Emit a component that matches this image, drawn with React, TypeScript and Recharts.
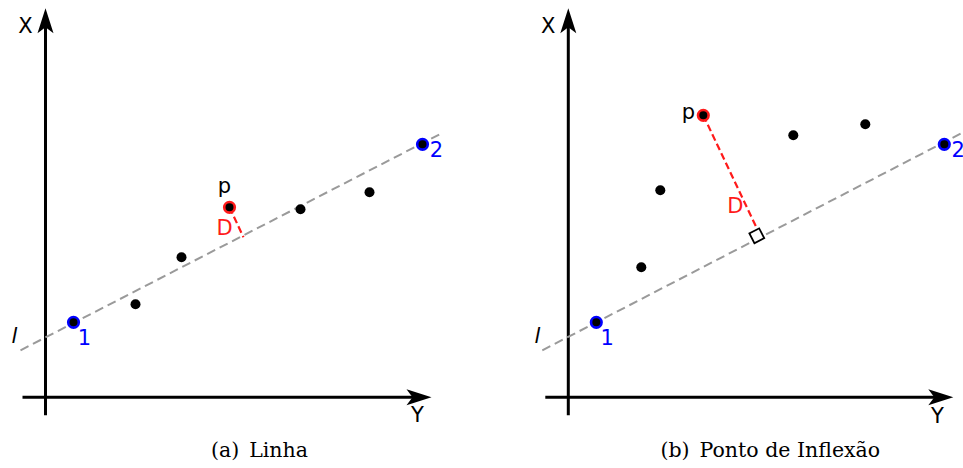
import React from 'react';
import { ScatterChart, Scatter, XAxis, YAxis, ReferenceLine, ReferenceDot } from 'recharts';

const H = 468;

// panel (a) Linha — units: 10px each, origin at the axes crossing
const dotsA = [{ x: 9.0, y: 9.3 }, { x: 13.6, y: 14.0 }, { x: 25.5, y: 18.8 }, { x: 32.4, y: 20.5 }];
const endsA = [{ x: 2.8, y: 7.5 }, { x: 37.7, y: 25.3 }];
const pointA = [{ x: 18.4, y: 19.0 }];
const lineA = [{ x: -2.5, y: 4.7 }, { x: 39.8, y: 26.5 }];
const distA = [{ x: 18.4, y: 19.0 }, { x: 19.8, y: 16.0 }];
const axisA = { yTip: 38.9, yStart: -1.8, xTip: 38.6, xStart: -2.3 };
const labelsA = [
  { x: -2.0, y: 36.4, text: 'X', kind: 'axis' },
  { x: 37.2, y: -2.5, text: 'Y', kind: 'axis' },
  { x: -3.1, y: 5.4, text: 'l', kind: 'line' },
  { x: 3.9, y: 5.2, text: '1', kind: 'end' },
  { x: 39.1, y: 24.0, text: '2', kind: 'end' },
  { x: 17.9, y: 20.4, text: 'p', kind: 'axis' },
  { x: 17.9, y: 16.2, text: 'D', kind: 'dist' },
];
const captionA = { x: 21.4, y: -6.0, tag: '(a)', text: 'Linha' };

// panel (b) Ponto de Inflexão
const dotsB = [{ x: 7.3, y: 13.0 }, { x: 9.2, y: 20.7 }, { x: 22.5, y: 26.2 }, { x: 29.7, y: 27.3 }];
const endsB = [{ x: 2.8, y: 7.5 }, { x: 37.6, y: 25.3 }];
const pointB = [{ x: 13.5, y: 28.2 }];
const lineB = [{ x: -2.6, y: 4.7 }, { x: 39.5, y: 26.5 }];
const distB = [{ x: 13.5, y: 28.2 }, { x: 18.9, y: 16.8 }];
const cornerB = [{ x: 18.85, y: 16.15 }];
const axisB = { yTip: 38.9, yStart: -1.8, xTip: 38.5, xStart: -2.3 };
const labelsB = [
  { x: -2.0, y: 36.4, text: 'X', kind: 'axis' },
  { x: 36.9, y: -2.6, text: 'Y', kind: 'axis' },
  { x: -3.1, y: 5.4, text: 'l', kind: 'line' },
  { x: 3.9, y: 5.2, text: '1', kind: 'end' },
  { x: 39.0, y: 24.0, text: '2', kind: 'end' },
  { x: 12.0, y: 27.8, text: 'p', kind: 'axis' },
  { x: 16.7, y: 18.4, text: 'D', kind: 'dist' },
];
const captionB = { x: 20.2, y: -6.0, tag: '(b)', text: 'Ponto de Inflexão' };

const BLUE = '#0000ff';
const RED = '#ff1a1a';
const GRAY = '#9a9a9a';

const labelColor: any = { axis: '#000', line: '#000', end: BLUE, dist: RED };

const UpArrow = (p: any) => (
  <path d={`M${p.cx},${p.cy} L${p.cx + 8},${p.cy + 25} L${p.cx},${p.cy + 19} L${p.cx - 8},${p.cy + 25} Z`} fill="#000" />
);
const RightArrow = (p: any) => (
  <path d={`M${p.cx},${p.cy} L${p.cx - 25},${p.cy - 8} L${p.cx - 19},${p.cy} L${p.cx - 25},${p.cy + 8} Z`} fill="#000" />
);

const Panel = ({ width, xDomain, dots, ends, point, line, dist, axis, labels, caption, corner }: any) => {
  const angle = (-Math.atan2(line[1].y - line[0].y, line[1].x - line[0].x) * 180) / Math.PI;
  return (
    <ScatterChart width={width} height={H} margin={{ top: 0, right: 0, bottom: 0, left: 0 }}>
      <XAxis type="number" dataKey="x" domain={xDomain} hide allowDataOverflow />
      <YAxis type="number" dataKey="y" domain={[-7.07, 39.73]} hide allowDataOverflow />

      <ReferenceLine segment={[{ x: 0, y: axis.yStart }, { x: 0, y: axis.yTip - 1.2 }]} stroke="#000" strokeWidth={3} ifOverflow="visible" />
      <ReferenceLine segment={[{ x: axis.xStart, y: 0 }, { x: axis.xTip - 1.2, y: 0 }]} stroke="#000" strokeWidth={3} ifOverflow="visible" />
      <ReferenceDot x={0} y={axis.yTip} ifOverflow="visible" shape={UpArrow} />
      <ReferenceDot x={axis.xTip} y={0} ifOverflow="visible" shape={RightArrow} />

      <ReferenceLine segment={line} stroke={GRAY} strokeWidth={2} strokeDasharray="9 5" ifOverflow="visible" />
      <ReferenceLine segment={dist} stroke={RED} strokeWidth={2.2} strokeDasharray="7 3.5" ifOverflow="visible" />

      {corner && corner.map((c: any, i: number) => (
        <ReferenceDot
          key={`c-${i}`}
          x={c.x}
          y={c.y}
          ifOverflow="visible"
          shape={(p: any) => (
            <rect
              x={p.cx - 5.5}
              y={p.cy - 5.5}
              width={11}
              height={11}
              fill="#fff"
              stroke="#000"
              strokeWidth={1.8}
              transform={`rotate(${angle} ${p.cx} ${p.cy})`}
            />
          )}
        />
      ))}

      <Scatter data={dots} isAnimationActive={false} shape={(p: any) => <circle cx={p.cx} cy={p.cy} r={5} fill="#000" />} />
      <Scatter
        data={ends}
        isAnimationActive={false}
        shape={(p: any) => <circle cx={p.cx} cy={p.cy} r={5.3} fill="#000" stroke={BLUE} strokeWidth={2.6} />}
      />
      <Scatter
        data={point}
        isAnimationActive={false}
        shape={(p: any) => <circle cx={p.cx} cy={p.cy} r={5.3} fill="#000" stroke={RED} strokeWidth={2.6} />}
      />

      {labels.map((l: any, i: number) => (
        <ReferenceDot
          key={`l-${i}`}
          x={l.x}
          y={l.y}
          ifOverflow="visible"
          shape={(p: any) => (
            <text
              x={p.cx}
              y={p.cy}
              textAnchor="middle"
              fill={labelColor[l.kind]}
              fontFamily="DejaVu Sans"
              fontStyle={l.kind === 'line' ? 'italic' : 'normal'}
              fontSize={21}
            >
              {l.text}
            </text>
          )}
        />
      ))}

      <ReferenceDot
        x={caption.x}
        y={caption.y}
        ifOverflow="visible"
        shape={(p: any) => (
          <text x={p.cx} y={p.cy} textAnchor="middle" fill="#000" fontFamily="DejaVu Serif" fontSize={20.5}>
            <tspan>{caption.tag}</tspan>
            <tspan dx={10}>{caption.text}</tspan>
          </text>
        )}
      />
    </ScatterChart>
  );
};

export default function App() {
  return (
    <div style={{ position: 'absolute', left: 0, top: 0, width: 963, height: H, background: '#fff', display: 'flex' }}>
      <Panel
        width={480}
        xDomain={[-4.55, 43.45]}
        dots={dotsA}
        ends={endsA}
        point={pointA}
        line={lineA}
        dist={distA}
        axis={axisA}
        labels={labelsA}
        caption={captionA}
      />
      <Panel
        width={483}
        xDomain={[-8.83, 39.47]}
        dots={dotsB}
        ends={endsB}
        point={pointB}
        line={lineB}
        dist={distB}
        axis={axisB}
        labels={labelsB}
        caption={captionB}
        corner={cornerB}
      />
    </div>
  );
}
